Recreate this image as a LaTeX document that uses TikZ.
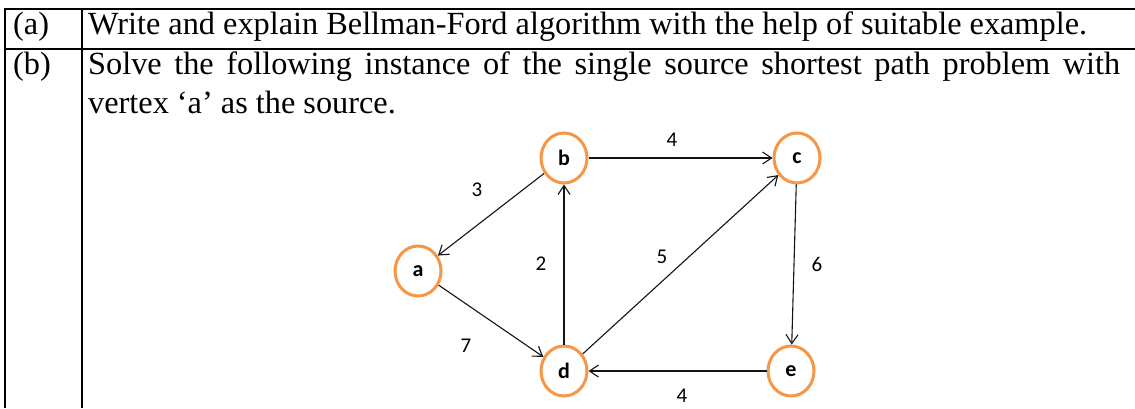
\documentclass[tikz,border=0pt]{standalone}
\usepackage{fontspec}
\setmainfont{Liberation Serif}
\newfontfamily\calib{Carlito}
\usetikzlibrary{arrows.meta,shapes.geometric}
\definecolor{vorange}{RGB}{247,150,70}
\definecolor{edgegray}{RGB}{20,20,20}
\begin{document}
\begin{tikzpicture}[x=1pt,y=-1pt,
  rule/.style={line width=2.2pt,black},
  txt/.style={inner sep=0pt,anchor=base west,font=\fontsize{32.3}{37}\selectfont},
  vtx/.style={ellipse,draw=vorange,line width=3pt,minimum width=46pt,minimum height=50pt,inner sep=0pt,
              font=\calib\bfseries\fontsize{22}{22}\selectfont},
  arr/.style={draw=edgegray,line width=1.1pt,-{Straight Barb[length=9pt,width=12pt]}},
  lbl/.style={inner sep=0pt,font=\calib\fontsize{21}{21}\selectfont}]
\useasboundingbox (0,0) rectangle (1135,408);
\fill[white] (0,0) rectangle (1135,408);
% table rules
\coordinate (tl) at (4,9);
\coordinate (tr) at (1135,9);
\coordinate (ml) at (4,49);
\coordinate (mr) at (1135,49);
\coordinate (lt) at (5,8);
\coordinate (lb) at (5,408);
\coordinate (ct) at (82,8);
\coordinate (cb) at (82,408);
\draw[rule] (tl) -- (tr);
\draw[rule] (ml) -- (mr);
\draw[rule] (lt) -- (lb);
\draw[rule] (ct) -- (cb);
% texts
\node[txt] (pa) at (13,34) {(a)};
\node[txt] (ta) at (88,34) {Write and explain Bellman-Ford algorithm with the help of suitable example.};
\node[txt] (pb) at (13,74) {(b)};
\node[txt] (tb1) at (88,74) {\makebox[1032pt][s]{Solve the following instance of the single source shortest path problem with}};
\node[txt] (tb2) at (88,113) {vertex ‘a’ as the source.};
% graph
\node[vtx] (a) at (418,271) {a};
\node[vtx] (b) at (564,158) {b};
\node[vtx] (c) at (797,158) {c};
\node[vtx] (d) at (564,371) {d};
\node[vtx] (e) at (791,371) {e};
\draw[arr] (b) -- (a);
\draw[arr] (b) -- (c);
\draw[arr] (d) -- (b);
\draw[arr] (d) -- (c);
\draw[arr] (c) -- (e);
\draw[arr] (e) -- (d);
\draw[arr] (a) -- (d);
\node[lbl] (l3) at (477,190) {3};
\node[lbl] (l4t) at (672,140) {4};
\node[lbl] (l2) at (541,264) {2};
\node[lbl] (l5) at (662,257) {5};
\node[lbl] (l6) at (817,264) {6};
\node[lbl] (l7) at (466,346) {7};
\node[lbl] (l4b) at (682,396) {4};
\end{tikzpicture}
\end{document}
